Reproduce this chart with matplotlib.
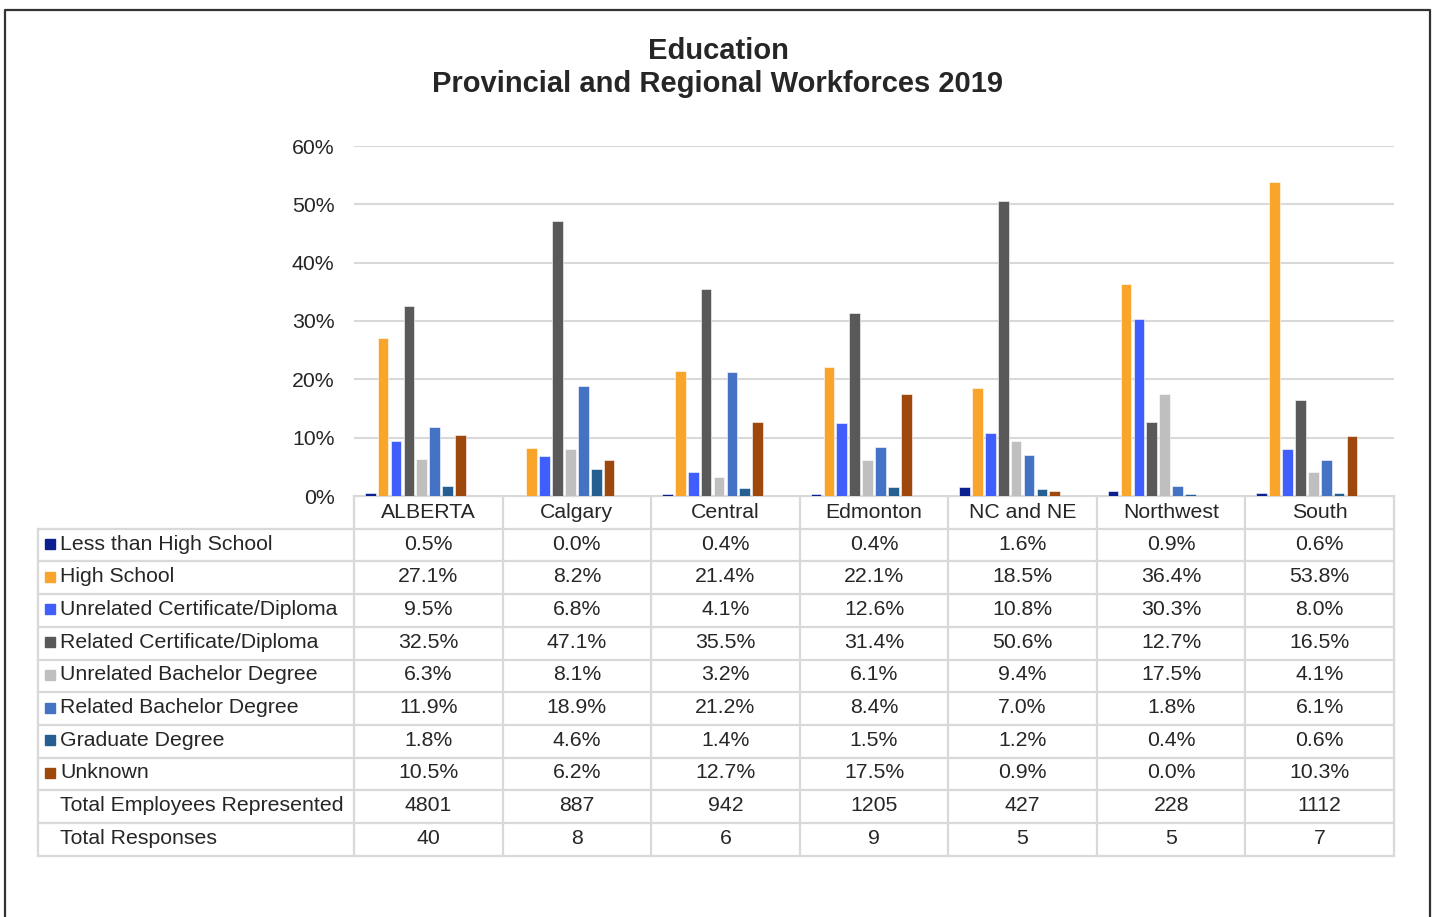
import matplotlib

matplotlib.use("Agg")
import matplotlib.pyplot as plt
import numpy as np

plt.rcParams["font.family"] = ["Liberation Sans", "DejaVu Sans"]

REGIONS = ["ALBERTA", "Calgary", "Central", "Edmonton", "NC and NE", "Northwest", "South"]
LEVELS = [
    "Less than High School",
    "High School",
    "Unrelated Certificate/Diploma",
    "Related Certificate/Diploma",
    "Unrelated Bachelor Degree",
    "Related Bachelor Degree",
    "Graduate Degree",
    "Unknown",
]
COLORS = ["#0B1F8F", "#F9A52B", "#3F5EFB", "#595959", "#BFBFBF", "#4472C4", "#255E91", "#9E480E"]

# percent share for each education level, one list per level, in region order
less_than_hs = [0.5, 0.0, 0.4, 0.4, 1.6, 0.9, 0.6]
high_school = [27.1, 8.2, 21.4, 22.1, 18.5, 36.4, 53.8]
unrelated_cert = [9.5, 6.8, 4.1, 12.6, 10.8, 30.3, 8.0]
related_cert = [32.5, 47.1, 35.5, 31.4, 50.6, 12.7, 16.5]
unrelated_bach = [6.3, 8.1, 3.2, 6.1, 9.4, 17.5, 4.1]
related_bach = [11.9, 18.9, 21.2, 8.4, 7.0, 1.8, 6.1]
graduate = [1.8, 4.6, 1.4, 1.5, 1.2, 0.4, 0.6]
unknown = [10.5, 6.2, 12.7, 17.5, 0.9, 0.0, 10.3]
total_employees = [4801, 887, 942, 1205, 427, 228, 1112]
total_responses = [40, 8, 6, 9, 5, 5, 7]

SERIES = [less_than_hs, high_school, unrelated_cert, related_cert,
          unrelated_bach, related_bach, graduate, unknown]

W, H = 1433, 917
TEXT = "#262626"
GRID = "#D9D9D9"
FS = 15.3

# layout in pixels
PLOT_L, PLOT_R = 354, 1394
PLOT_TOP, PLOT_BOT = 146, 496
TABLE_L = 38
ROW_H = 32.7

fig = plt.figure(figsize=(W / 100, H / 100), dpi=100)

ax = fig.add_axes([PLOT_L / W, 1 - PLOT_BOT / H, (PLOT_R - PLOT_L) / W, (PLOT_BOT - PLOT_TOP) / H])
n = len(REGIONS)
x = np.arange(n)
# ten slots per group (the two totals rows take slots but draw no bar)
step = 0.0868
bw = 0.072
for i, (vals, col) in enumerate(zip(SERIES, COLORS)):
    ax.bar(x + (i - 4.5) * step, np.array(vals) / 100, width=bw, color=col,
           edgecolor="white", linewidth=0.4, zorder=3)
ax.set_xlim(-0.5, n - 0.5)
ax.set_ylim(0, 0.6)
ax.set_yticks(np.arange(0, 0.61, 0.1))
ax.set_yticklabels([f"{int(round(v * 100))}%" for v in np.arange(0, 0.61, 0.1)])
ax.tick_params(axis="y", length=0, pad=14, labelsize=FS, labelcolor=TEXT)
ax.set_xticks([])
ax.grid(axis="y", color=GRID, linewidth=1.5, zorder=0)
for s in ax.spines.values():
    s.set_visible(False)

# overlay in pixel coordinates for the frame, title and data table
ov = fig.add_axes([0, 0, 1, 1], zorder=-1)
ov.set_xlim(0, W)
ov.set_ylim(H, 0)
ov.axis("off")
ov.plot([5, 5, 1430, 1430], [H + 5, 10, 10, H + 5], color="#333333", linewidth=1.6, clip_on=False)

ov.text(718, 51, "Education", ha="center", va="center", fontsize=21, fontweight="bold", color=TEXT)
ov.text(718, 84, "Provincial and Regional Workforces 2019", ha="center", va="center",
        fontsize=21, fontweight="bold", color=TEXT)

col_w = (PLOT_R - PLOT_L) / n
col_edges = [PLOT_L + k * col_w for k in range(n + 1)]
row_lbls = LEVELS + ["Total Employees Represented", "Total Responses"]
row_vals = [[f"{v:.1f}%" for v in s] for s in SERIES] + \
           [[str(v) for v in total_employees], [str(v) for v in total_responses]]
n_rows = len(row_lbls)
head_top = PLOT_BOT
body_top = PLOT_BOT + ROW_H
table_bot = body_top + n_rows * ROW_H

lw = 1.6
ov.plot([PLOT_L, PLOT_R], [head_top, head_top], color=GRID, linewidth=lw)
for r in range(n_rows + 1):
    yy = body_top + r * ROW_H
    ov.plot([TABLE_L, PLOT_R], [yy, yy], color=GRID, linewidth=lw)
for xe in col_edges:
    ov.plot([xe, xe], [head_top, table_bot], color=GRID, linewidth=lw)
ov.plot([TABLE_L, TABLE_L], [body_top, table_bot], color=GRID, linewidth=lw)

for k, name in enumerate(REGIONS):
    ov.text(col_edges[k] + col_w / 2, head_top + ROW_H / 2, name, ha="center", va="center",
            fontsize=FS, color=TEXT)

for r in range(n_rows):
    yc = body_top + (r + 0.5) * ROW_H - 1
    if r < len(COLORS):
        ov.add_patch(plt.Rectangle((45, yc - 5), 10, 10, color=COLORS[r]))
    ov.text(60, yc, row_lbls[r], ha="left", va="center", fontsize=FS, color=TEXT)
    for k in range(n):
        ov.text(col_edges[k] + col_w / 2, yc, row_vals[r][k], ha="center", va="center",
                fontsize=FS, color=TEXT)

fig.savefig("out.png", dpi=100, facecolor="white")
